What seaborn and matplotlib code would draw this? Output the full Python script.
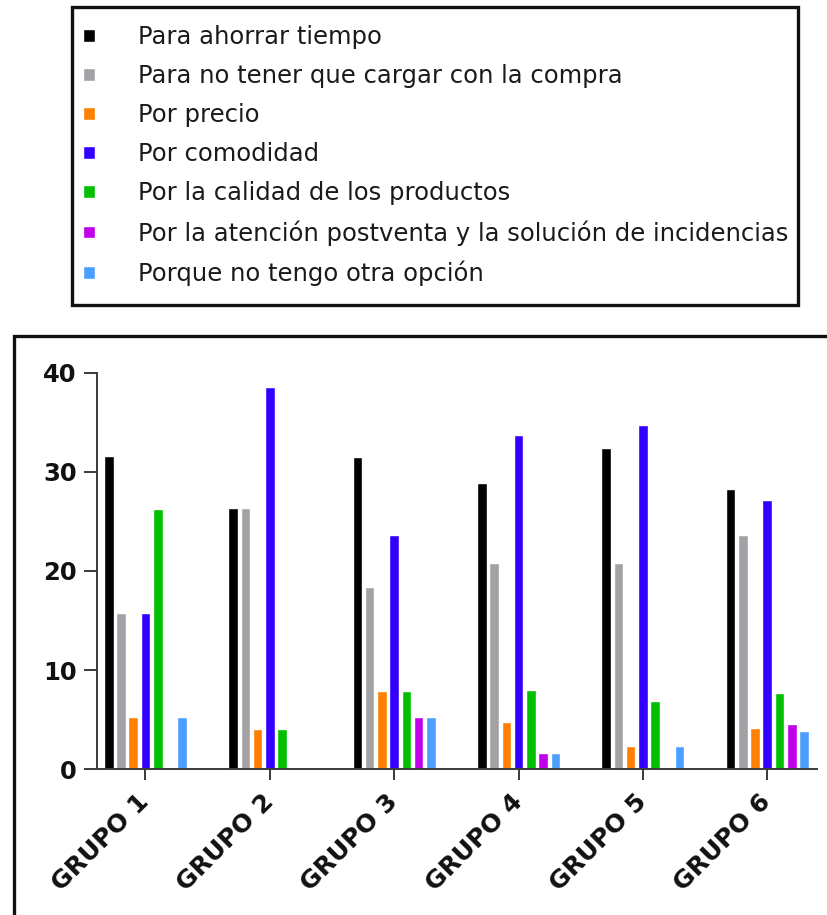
import matplotlib
matplotlib.use("Agg")
import matplotlib.pyplot as plt
from matplotlib.patches import Rectangle
import seaborn as sns
import pandas as pd

# Survey groups and reasons for buying online
grupos = ["GRUPO 1", "GRUPO 2", "GRUPO 3", "GRUPO 4", "GRUPO 5", "GRUPO 6"]
motivos = [
    "Para ahorrar tiempo",
    "Para no tener que cargar con la compra",
    "Por precio",
    "Por comodidad",
    "Por la calidad de los productos",
    "Por la atención postventa y la solución de incidencias",
    "Porque no tengo otra opción",
]

# Percentage of answers per reason, one list per reason (in group order)
ahorrar_tiempo = [31.6, 26.4, 31.5, 28.9, 32.4, 28.3]
no_cargar = [15.8, 26.4, 18.4, 20.8, 20.8, 23.6]
precio = [5.3, 4.1, 7.9, 4.8, 2.3, 4.2]
comodidad = [15.8, 38.6, 23.6, 33.7, 34.7, 27.2]
calidad = [26.3, 4.1, 7.9, 8.0, 6.9, 7.7]
postventa = [0.0, 0.0, 5.3, 1.6, 0.0, 4.6]
sin_opcion = [5.3, 0.0, 5.3, 1.6, 2.3, 3.9]

colores = ["#000000", "#a2a2a6", "#ff7f00", "#3300ff", "#00c000", "#c000ea", "#4d9fff"]

series = [ahorrar_tiempo, no_cargar, precio, comodidad, calidad, postventa, sin_opcion]
df = pd.DataFrame(
    [(g, m, v) for m, vals in zip(motivos, series) for g, v in zip(grupos, vals)],
    columns=["grupo", "motivo", "valor"],
)

sns.set_theme(style="ticks")
plt.rcParams["font.family"] = ["DejaVu Sans"]

W, H = 827, 915
fig = plt.figure(figsize=(W / 100, H / 100), dpi=100)
fig.patch.set_facecolor("white")

ax = fig.add_axes([97 / W, 1 - 769.3 / H, (817 - 97) / W, (769.3 - 372.7) / H])
sns.barplot(
    data=df, x="grupo", y="valor", hue="motivo", hue_order=motivos,
    order=grupos, palette=colores, saturation=1, width=0.69, gap=0.22,
    ax=ax,
)

ax.set_ylim(0, 40)
ax.set_xlim(-0.39, 5.4)
ax.set_yticks([0, 10, 20, 30, 40])
ax.set_xlabel("")
ax.set_ylabel("")
ax.set_facecolor("white")
for s in ["top", "right"]:
    ax.spines[s].set_visible(False)
for s in ["left", "bottom"]:
    ax.spines[s].set_color("#3a3a3a")
    ax.spines[s].set_linewidth(1.4)

ax.tick_params(axis="y", length=9.5, width=1.4, color="#3a3a3a", pad=5,
               labelsize=17.5, labelcolor="#111111")
ax.tick_params(axis="x", length=8, width=1.4, color="#3a3a3a", pad=13,
               labelsize=18, labelcolor="#111111")
for lab in ax.get_yticklabels():
    lab.set_fontweight("bold")
for lab in ax.get_xticklabels():
    lab.set_fontweight("bold")
    lab.set_rotation(45)
    lab.set_ha("right")
    lab.set_va("center")
    lab.set_rotation_mode("anchor")

# Legend placed in its own framed box above the chart
handles, labels = ax.get_legend_handles_labels()
ax.get_legend().remove()
fig.legend(
    handles, labels, loc="upper left",
    bbox_to_anchor=(83 / W, 1 - 25 / H),
    frameon=False, fontsize=17.5, handlelength=0.5, handleheight=0.42,
    handletextpad=1.75, labelspacing=0.62, borderpad=0, borderaxespad=0,
    labelcolor="#1a1a1a",
)
fig.add_artist(Rectangle((72 / W, 1 - 305 / H), (798 - 72) / W, (305 - 7) / H,
                         transform=fig.transFigure, fill=False,
                         edgecolor="#111111", linewidth=2.4))
# Outer frame around the chart panel (open to the right and bottom)
fig.add_artist(Rectangle((14 / W, -0.05), 1.2, (1 - 336 / H) + 0.05,
                         transform=fig.transFigure, fill=False,
                         edgecolor="#111111", linewidth=2.4, clip_on=False))

fig.savefig("out.png", dpi=100, facecolor="white")
